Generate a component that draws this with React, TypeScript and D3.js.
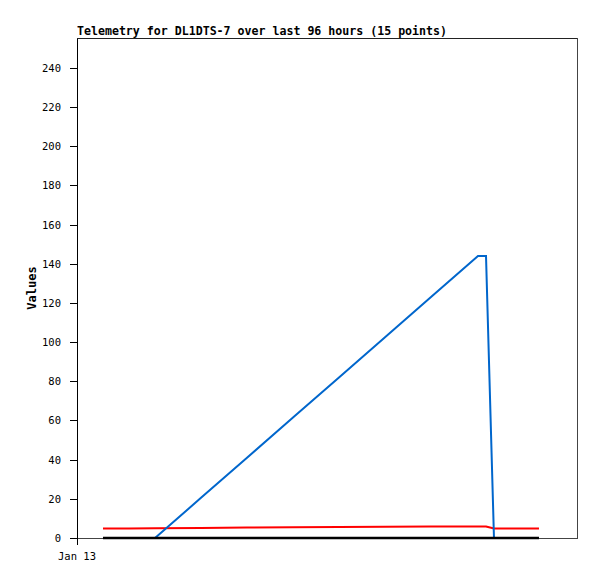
import React from "react";
import * as d3 from "d3";

const title = "Telemetry for DL1DTS-7 over last 96 hours (15 points)";
const yLabel = "Values";
const startTime = new Date(2024, 0, 13, 0, 0, 0);
const hoursOffset = [4.99, 9.98, 14.98, 23.81, 32.64, 41.47, 50.3, 59.14, 67.97, 76.99, 78.53, 80.06, 82.94, 85.82, 88.7];
const blueValues = [0, 0, 0, 20.5, 41.0, 61.5, 82.0, 102.5, 123.0, 144, 144, 0, 0, 0, 0];
const redValues = [4.85, 4.9, 4.95, 5.1, 5.3, 5.45, 5.6, 5.75, 5.85, 5.9, 5.9, 4.85, 4.85, 4.85, 4.85];
const blackValues = [0, 0, 0, 0, 0, 0, 0, 0, 0, 0, 0, 0, 0, 0, 0];
const yTicks = [0, 20, 40, 60, 80, 100, 120, 140, 160, 180, 200, 220, 240];
const xTickLabels = ["Jan 13"];

const W = 597, H = 579;
const left = 77, right = 577, top = 38, bottom = 538;

export default function App() {
  const times = hoursOffset.map((h) => new Date(startTime.getTime() + h * 3600000));
  const x = d3.scaleTime().domain([startTime, new Date(startTime.getTime() + 96 * 3600000)]).range([left, right]);
  const y = d3.scaleLinear().domain([0, 255.3]).range([bottom, top]);
  const line = (vals: number[]) =>
    d3.line<number>().x((_, i) => x(times[i])).y((v) => y(v))(vals) || "";
  const font = "'DejaVu Sans Mono', monospace";
  return (
    <svg width={W} height={H} style={{ position: "absolute", left: 0, top: 0, background: "#fff" }}>
      <rect x={0} y={0} width={W} height={H} fill="#fff" />
      <text x={left} y={35} fontFamily={font} fontWeight="bold" fontSize={11.6} fill="#000" textLength={370} lengthAdjust="spacing">{title}</text>
      <rect x={left + 0.5} y={top + 0.5} width={right - left} height={bottom - top} fill="none" stroke="#444" strokeWidth={1} shapeRendering="crispEdges" />
      <line x1={left + 0.5} x2={left + 0.5} y1={top} y2={bottom + 7} stroke="#000" strokeWidth={1} shapeRendering="crispEdges" />
      <line x1={left} x2={right} y1={top + 0.5} y2={top + 0.5} stroke="#222" strokeWidth={1} shapeRendering="crispEdges" />
      {yTicks.map((t) => (
        <g key={t}>
          <line x1={left - 7} x2={left} y1={Math.round(y(t)) + 0.5} y2={Math.round(y(t)) + 0.5} stroke="#000" shapeRendering="crispEdges" />
          <text x={61} y={y(t) + 4} textAnchor="end" fontFamily={font} fontSize={10.5} fill="#000">{t}</text>
        </g>
      ))}
      {xTickLabels.map((l) => (
        <text key={l} x={x(startTime)} y={560} textAnchor="middle" fontFamily={font} fontSize={10.5} fill="#000">{l}</text>
      ))}
      <text transform={`translate(36, ${(top + bottom) / 2}) rotate(-90)`} textAnchor="middle" fontFamily={font} fontWeight="bold" fontSize={12} fill="#000">{yLabel}</text>
      <path d={line(redValues)} fill="none" stroke="#ff0000" strokeWidth={2} />
      <path d={line(blueValues)} fill="none" stroke="#0066cc" strokeWidth={2} />
      <path d={line(blackValues)} fill="none" stroke="#000" strokeWidth={2.5} />
    </svg>
  );
}
